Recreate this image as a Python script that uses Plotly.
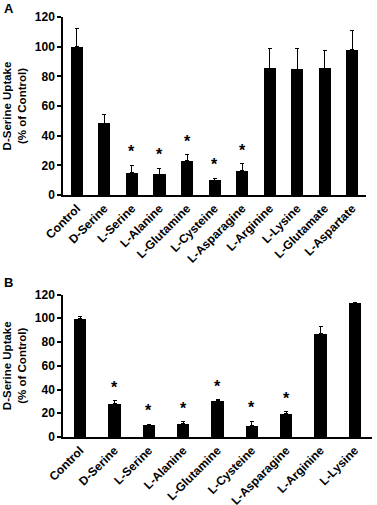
import plotly.graph_objects as go

cats_a = ["Control", "D-Serine", "L-Serine", "L-Alanine", "L-Glutamine", "L-Cysteine",
          "L-Asparagine", "L-Arginine", "L-Lysine", "L-Glutamate", "L-Aspartate"]
vals_a = [100, 48.5, 15, 14, 23, 10, 16.3, 85.3, 84.9, 85.3, 97.8]
errs_a = [12, 5.5, 5, 4, 4, 1.2, 4.7, 13.7, 13.8, 12.3, 13.2]
sig_a = [0, 0, 1, 1, 1, 1, 1, 0, 0, 0, 0]

cats_b = ["Control", "D-Serine", "L-Serine", "L-Alanine", "L-Glutamine", "L-Cysteine",
          "L-Asparagine", "L-Arginine", "L-Lysine"]
vals_b = [100, 27.8, 10.4, 11.3, 31, 9.7, 19.4, 87.3, 113]
errs_b = [1.2, 2.8, 0.3, 1.5, 0.3, 3.6, 2, 5.8, 0.6]
sig_b = [0, 1, 1, 1, 1, 1, 1, 0, 0]

yticks = [0, 20, 40, 60, 80, 100, 120]

FONT = "Liberation Sans, Arial, sans-serif"
fig = go.Figure()
star_font = dict(family=FONT, size=16, color="black", weight="bold")

def add_panel(cats, vals, errs, sig, xa, ya, width):
    fig.add_trace(go.Bar(
        x=cats, y=vals, xaxis=xa, yaxis=ya, width=width,
        marker=dict(color="black", line=dict(width=0)),
        error_y=dict(type="data", array=errs, arrayminus=[0] * len(errs), symmetric=False,
                     color="black", thickness=1, width=2),
        showlegend=False, hoverinfo="skip"))
    for c, v, e, s in zip(cats, vals, errs, sig):
        if s:
            fig.add_annotation(x=c, y=v + e, xref=xa, yref=ya, text="*", showarrow=False,
                               yanchor="bottom", yshift=3, font=star_font)

add_panel(cats_a, vals_a, errs_a, sig_a, "x", "y", 0.44)
add_panel(cats_b, vals_b, errs_b, sig_b, "x2", "y2", 0.36)

axfont = dict(family=FONT, size=12, color="black", weight="bold")
common_x = dict(showline=True, linecolor="black", linewidth=1.5, ticks="", showgrid=False,
                tickangle=-45, tickfont=axfont, zeroline=False, automargin=False)
common_y = dict(showline=True, linecolor="black", linewidth=1.5, ticks="outside", ticklen=4,
                tickwidth=1.5, tickcolor="black", showgrid=False, zeroline=False,
                automargin=False,
                range=[0, 120], tickvals=yticks, tickfont=axfont,
                title=dict(text="D-Serine Uptake<br>(% of Control)",
                           font=dict(family=FONT, size=11.5, color="black", weight="bold"),
                           standoff=6))

H = 505
T = 17
B = 68
fig.update_layout(
    width=377, height=H,
    margin=dict(l=63, r=5, t=T, b=B),
    plot_bgcolor="white", paper_bgcolor="white",
    bargap=0,
)

ph = H - T - B
def py(pix):
    return (H - B - pix) / ph

fig.update_layout(
    xaxis=dict(common_x, domain=[0, 0.981], anchor="y", range=[-0.5, 10.5]),
    yaxis=dict(common_y, domain=[py(195), 1.0], anchor="x"),
    xaxis2=dict(common_x, domain=[0, 1.0], anchor="y2", range=[-0.5, 8.5]),
    yaxis2=dict(common_y, domain=[0, py(294.5)], anchor="x2"),
)

fig.add_annotation(text="A", x=-63 / 309 + 0.005, y=py(8), xref="paper", yref="paper",
                   xanchor="left", yanchor="middle", showarrow=False,
                   font=dict(family=FONT, size=13, color="black", weight="bold"))
fig.add_annotation(text="B", x=-63 / 309 + 0.005, y=py(282), xref="paper", yref="paper",
                   xanchor="left", yanchor="middle", showarrow=False,
                   font=dict(family=FONT, size=13, color="black", weight="bold"))

fig.write_html("out.html", config={"displayModeBar": False},
               post_script="document.body.style.margin='0';document.body.style.overflow='hidden';")
